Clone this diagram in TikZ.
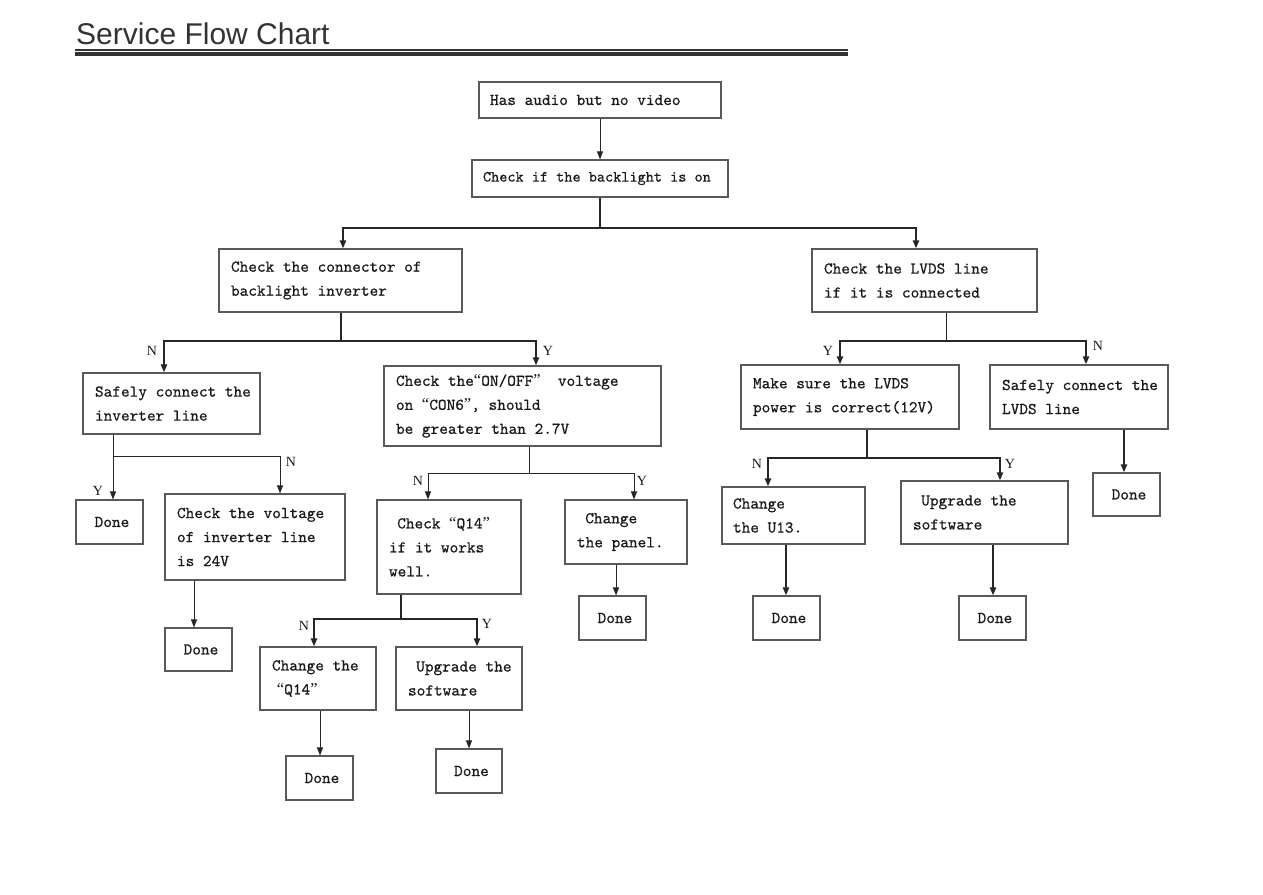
\documentclass[tikz,border=0pt]{standalone}
\usepackage{fontspec}
\setmainfont{Liberation Serif}
\newfontfamily\titlefont{Liberation Sans}
\newfontfamily\boxfont{lmmono10-regular}[Extension=.otf, FakeBold=0.6]
\newcommand\qo{{\rmfamily “}}
\newcommand\qc{{\rmfamily ”}}
\newcommand\boxsp{\spaceskip=0.525em\relax\xspaceskip=0.525em\relax}
\usetikzlibrary{arrows.meta,calc}
\tikzset{
  box/.style={draw=black!65, line width=1.1pt, text=black!90,
    font=\boxfont\fontsize{16.5}{24}\selectfont,
    align=left, inner ysep=0pt},
  donebox/.style={draw=black!65, line width=1.1pt, text=black!90,
    font=\boxfont\fontsize{16.5}{24}\selectfont, inner sep=0pt},
  yn/.style={font=\fontsize{14}{14}\selectfont, text=black!90, inner sep=0pt},
  thinc/.style={draw=black!85, line width=1pt},
  thickc/.style={draw=black!85, line width=2pt},
  arr/.style={-{Triangle[length=8pt,width=6pt]}}
}
\newcommand\mkbox[7]{%
  \pgfmathsetmacro\bh{#5-#3}%
  \pgfmathsetmacro\tw{#4-#2-2*#6}%
  \node[box, minimum height=\bh pt, inner xsep=#6pt, text width=\tw pt]
    (#1) at ({(#2+#4)/2},{(#3+#5)/2}) {\boxsp #7};}
\newcommand\mkdone[5]{%
  \pgfmathsetmacro\bw{#4-#2}%
  \pgfmathsetmacro\bh{#5-#3}%
  \node[donebox, minimum width=\bw pt, minimum height=\bh pt]
    (#1) at ({(#2+#4)/2},{(#3+#5)/2}) {\hspace*{0.3em}Done};}
\newcommand\bline[1]{\mbox{\boxsp #1}}
\begin{document}
\begin{tikzpicture}[x=1pt,y=-1pt]
\useasboundingbox (0,0) rectangle (1263,894);
\fill[white] (0,0) rectangle (1263,894);
% title
\node[font=\titlefont\fontsize{30}{30}\selectfont, text=black!80, anchor=base west, inner sep=0pt]
  (title) at (76,44) {Service Flow Chart};
\draw[black!80, line width=1.2pt] (75,50) -- (848,50);
\draw[black!80, line width=3.5pt] (75,53.8) -- (848,53.8);
% boxes
\mkbox{b1}{479}{82}{721}{118}{11}{\bline{Has audio but no video}}
\mkbox{b2}{472}{160}{728}{197}{11}{\fontsize{15.5}{24}\selectfont\bline{Check if the backlight is on}}
\mkbox{b3}{219}{249}{462}{312}{12}{\bline{Check the connector of}\\\bline{backlight inverter}}
\mkbox{b4}{812}{249}{1037}{312}{12}{\bline{Check the LVDS line}\\\bline{if it is connected}}
\mkbox{b5}{83}{373}{260}{434}{12}{\bline{Safely connect the}\\\bline{inverter line}}
\mkbox{b6}{384}{366}{661}{446}{12}{\bline{Check the\qo ON/OFF\qc~ voltage}\\\bline{on \qo CON6\qc, should}\\\bline{be greater than 2.7V}}
\mkbox{b7}{741}{365}{959}{429}{12}{\bline{Make sure the LVDS}\\\bline{power is correct(12V)}}
\mkbox{b8}{990}{365}{1168}{429}{12}{\bline{Safely connect the}\\\bline{LVDS line}}
\mkbox{b9}{165}{494}{345}{580}{12}{\bline{Check the voltage}\\\bline{of inverter line}\\\bline{is 24V}}
\mkbox{b10}{377}{500}{521}{594}{12}{\bline{\hspace*{0.5em}Check~\qo Q14\qc}\\\bline{if it works}\\\bline{well.}}
\mkbox{b11}{565}{500}{687}{564}{12}{\bline{\hspace*{0.5em}Change}\\\bline{the panel.}}
\mkbox{b12}{260}{647}{376}{710}{12}{\bline{Change the}\\\bline{\hspace*{0.3em}\qo Q14\qc}}
\mkbox{b13}{396}{647}{522}{710}{12}{\bline{\hspace*{0.5em}Upgrade the}\\\bline{software}}
\mkbox{b14}{722}{487}{865}{544}{11}{\bline{Change}\\\bline{the U13.}}
\mkbox{b15}{901}{481}{1068}{544}{12}{\bline{\hspace*{0.5em}Upgrade the}\\\bline{software}}
% done boxes
\mkdone{d5}{76}{500}{143}{544}
\mkdone{d9}{165}{628}{232}{671}
\mkdone{d11}{579}{596}{646}{640}
\mkdone{d12}{286}{756}{353}{800}
\mkdone{d13}{436}{749}{502}{793}
\mkdone{d8}{1093}{473}{1160}{516}
\mkdone{d14}{753}{596}{820}{640}
\mkdone{d15}{959}{596}{1026}{640}
% connectors
\draw[thinc,arr] (b1.south) -- (b2.north);
\draw[thickc] (b2.south) -- ++(0,30) coordinate (j1);
\draw[thickc,arr] (j1) -| ([xshift=2.5pt]b3.north);
\draw[thickc,arr] (j1) -| ([xshift=-8.5pt]b4.north);
\draw[thickc] (b3.south) -- ++(0,28) coordinate (j3);
\draw[thickc,arr] (j3) -| ([xshift=-7.5pt]b5.north);
\draw[thickc,arr] (j3) -| ([xshift=13.5pt]b6.north);
\draw[thinc] ([xshift=21.5pt]b4.south) -- ++(0,28) coordinate (j4);
\draw[thickc,arr] (j4) -| ([xshift=-10pt]b7.north);
\draw[thickc,arr] (j4) -| ([xshift=7pt]b8.north);
\draw[thinc] ([xshift=-58.5pt]b5.south) -- ++(0,22) coordinate (j5);
\draw[thinc,arr] (j5) -| ([xshift=3.5pt]d5.north);
\draw[thinc,arr] (j5) -| ([xshift=25pt]b9.north);
\draw[thinc] ([xshift=6.5pt]b6.south) -- ++(0,27) coordinate (j6);
\draw[thinc,arr] (j6) -| ([xshift=-21pt]b10.north);
\draw[thinc,arr] (j6) -| ([xshift=8pt]b11.north);
\draw[thickc] ([xshift=-48pt]b10.south) -- ++(0,24) coordinate (j10);
\draw[thickc,arr] (j10) -| ([xshift=-4pt]b12.north);
\draw[thickc,arr] (j10) -| ([xshift=18pt]b13.north);
\draw[thickc] ([xshift=17pt]b7.south) -- ++(0,28) coordinate (j7);
\draw[thickc,arr] (j7) -| ([xshift=-25.5pt]b14.north);
\draw[thickc,arr] (j7) -| ([xshift=15.5pt]b15.north);
\draw[thickc,arr] ([xshift=45pt]b8.south) -- ([xshift=-2.5pt]d8.north);
\draw[thinc,arr] ([xshift=-61pt]b9.south) -- ([xshift=-4.5pt]d9.north);
\draw[thinc,arr] ([xshift=-10pt]b11.south) -- ([xshift=3.5pt]d11.north);
\draw[thinc,arr] ([xshift=2pt]b12.south) -- ([xshift=0.5pt]d12.north);
\draw[thinc,arr] ([xshift=10pt]b13.south) -- (d13.north);
\draw[thickc,arr] ([xshift=-7.5pt]b14.south) -- ([xshift=-0.5pt]d14.north);
\draw[thickc,arr] ([xshift=8.5pt]b15.south) -- ([xshift=0.5pt]d15.north);
% labels
\node[yn] (l1) at (152,351) {N};
\node[yn] (l2) at (548,351) {Y};
\node[yn] (l3) at (828,351) {Y};
\node[yn] (l4) at (1098,346) {N};
\node[yn] (l5) at (98,491) {Y};
\node[yn] (l6) at (291,462) {N};
\node[yn] (l7) at (418,481) {N};
\node[yn] (l8) at (642,481) {Y};
\node[yn] (l9) at (304,626) {N};
\node[yn] (l10) at (487,624) {Y};
\node[yn] (l11) at (757,464) {N};
\node[yn] (l12) at (1010,464) {Y};
\end{tikzpicture}
\end{document}
